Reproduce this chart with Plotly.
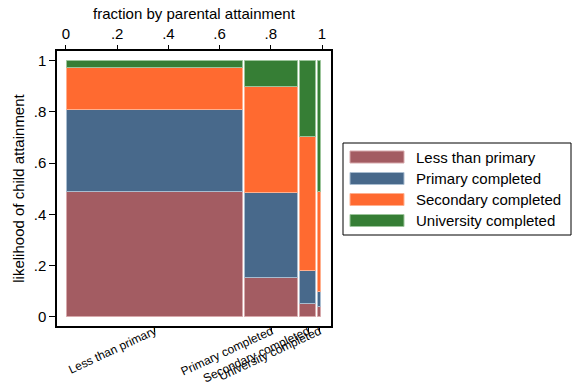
import plotly.graph_objects as go

# Data
parent_categories = ["Less than primary", "Primary completed", "Secondary completed", "University completed"]
parent_fraction = [0.695, 0.215, 0.071, 0.019]   # column widths (fraction by parental attainment)

child_categories = ["Less than primary", "Primary completed", "Secondary completed", "University completed"]
# conditional shares of child attainment within each parental column
share_less_primary = [0.487, 0.151, 0.050, 0.039]
share_primary      = [0.320, 0.333, 0.128, 0.056]
share_secondary    = [0.166, 0.414, 0.525, 0.393]
share_university   = [0.027, 0.102, 0.297, 0.512]

top_ticks = [0, 0.2, 0.4, 0.6, 0.8, 1.0]
top_tick_labels = ["0", ".2", ".4", ".6", ".8", "1"]
y_tick_labels = ["0", ".2", ".4", ".6", ".8", "1"]

colors = ["#A35C62", "#48698B", "#FF6A30", "#367E35"]
edge_colors = ["#D7A9AC", "#A9BDD0", "#FFB08F", "#9CC59B"]

series = [share_less_primary, share_primary, share_secondary, share_university]

# column geometry from fractions
lefts, centers = [], []
acc = 0.0
for f in parent_fraction:
    lefts.append(acc)
    centers.append(acc + f / 2)
    acc += f

gap = 0.006
fig = go.Figure()
bases = [0.0] * len(parent_fraction)
for i, (name, vals) in enumerate(zip(child_categories, series)):
    fig.add_trace(go.Bar(
        x=centers, y=vals, base=list(bases),
        width=[max(f - gap, 0.002) for f in parent_fraction],
        name=name, marker=dict(color=colors[i], line=dict(color=edge_colors[i], width=1)),
        showlegend=False, hovertemplate=name + ": %{y:.3f}<extra></extra>",
    ))
    bases = [b + v for b, v in zip(bases, vals)]

# invisible trace to anchor the top axis
fig.add_trace(go.Scatter(x=[0, 1], y=[0, 0], xaxis="x2", mode="markers",
                         marker=dict(opacity=0), showlegend=False, hoverinfo="skip"))

font_family = "Liberation Sans, Arial, sans-serif"
xr = [-0.035, 1.035]
yr = [-0.036, 1.038]

fig.update_layout(
    width=573, height=384,
    margin=dict(l=57, r=242, t=51, b=58),
    paper_bgcolor="white", plot_bgcolor="white",
    barmode="overlay", bargap=0,
    font=dict(family=font_family, color="black", size=15),
    xaxis=dict(range=xr, tickvals=centers, ticktext=parent_categories, tickangle=-25,
               tickfont=dict(size=12), ticks="outside", ticklen=4, tickcolor="black",
               ticklabelstandoff=-12,
               showline=True, linecolor="black", linewidth=1.5, mirror=True,
               showgrid=False, zeroline=False, automargin=False),
    xaxis2=dict(range=xr, overlaying="x", side="top", tickvals=top_ticks, ticktext=top_tick_labels,
                ticks="outside", ticklen=5, tickcolor="black", tickfont=dict(size=15),
                title=dict(text="fraction by parental attainment", font=dict(size=15), standoff=1),
                showgrid=False, zeroline=False, showline=False, automargin=False),
    yaxis=dict(range=yr, tickvals=top_ticks, ticktext=y_tick_labels, ticks="outside", ticklen=6,
               tickcolor="black", tickfont=dict(size=15),
               title=dict(text="likelihood of child attainment", font=dict(size=15), standoff=5),
               showline=True, linecolor="black", linewidth=1.5, mirror=True,
               showgrid=False, zeroline=False, automargin=False),
)

# manual legend (wide swatches), positions in paper coordinates
def px_to_paper_x(px):
    return (px - 57) / 274.0

def px_to_paper_y(py):
    return (326 - py) / 275.0

fig.add_shape(type="rect", xref="paper", yref="paper",
              x0=px_to_paper_x(343), x1=px_to_paper_x(571),
              y0=px_to_paper_y(235), y1=px_to_paper_y(143),
              line=dict(color="black", width=1), fillcolor="white", layer="below")
row_y = [157, 178.5, 199.5, 220.5]
for i, name in enumerate(child_categories):
    yc = row_y[i]
    fig.add_shape(type="rect", xref="paper", yref="paper",
                  x0=px_to_paper_x(350), x1=px_to_paper_x(404),
                  y0=px_to_paper_y(yc + 6), y1=px_to_paper_y(yc - 6),
                  fillcolor=colors[i], line=dict(color=edge_colors[i], width=1))
    fig.add_annotation(xref="paper", yref="paper", x=px_to_paper_x(414), y=px_to_paper_y(yc),
                       text=name, showarrow=False, xanchor="left", yanchor="middle",
                       font=dict(size=15, family=font_family, color="black"))

fig.write_html("out.html", config={"displayModeBar": False},
               post_script="document.body.style.margin='0';")
